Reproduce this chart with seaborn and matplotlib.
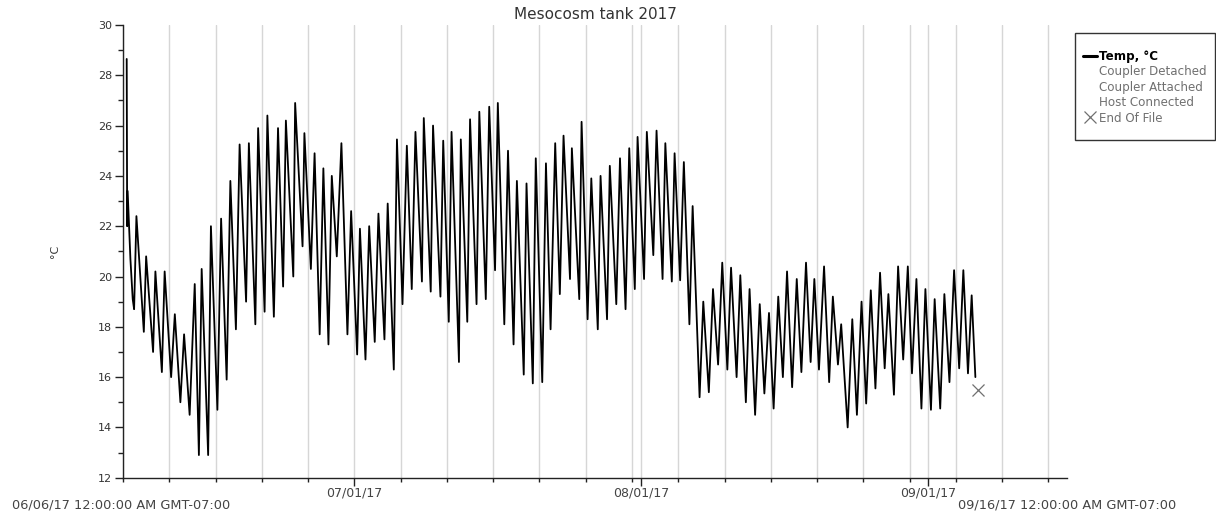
import numpy as np
import pandas as pd
import matplotlib
matplotlib.use("Agg")
import matplotlib.pyplot as plt
import matplotlib.dates as mdates
from matplotlib.lines import Line2D
from matplotlib.patches import Rectangle
from matplotlib.ticker import FixedLocator, MultipleLocator
import seaborn as sns

# Logger turning points: days elapsed since 06/06/17 00:00 (GMT-07:00)
elapsed_days = [
    0.40, 0.45, 0.50, 0.80, 1.05, 1.20, 1.45, 2.25, 2.50, 3.25,
    3.50, 4.20, 4.50, 5.20, 5.60, 6.20, 6.60, 7.20, 7.75, 8.20,
    8.50, 9.20, 9.50, 10.20, 10.60, 11.20, 11.60, 12.20, 12.60, 13.30,
    13.60, 14.30, 14.60, 15.30, 15.60, 16.30, 16.75, 17.30, 17.60, 18.40,
    18.60, 19.40, 19.60, 20.30, 20.70, 21.25, 21.65, 22.20, 22.56, 23.10,
    23.60, 24.25, 24.65, 25.30, 25.60, 26.20, 26.60, 27.20, 27.60, 28.25,
    28.60, 29.26, 29.60, 30.20, 30.67, 31.20, 31.60, 32.30, 32.50, 33.25,
    33.50, 34.30, 34.60, 35.20, 35.50, 36.30, 36.50, 37.20, 37.50, 38.20,
    38.50, 39.20, 39.57, 40.20, 40.50, 41.20, 41.60, 42.20, 42.56, 43.30,
    43.60, 44.28, 44.60, 45.30, 45.70, 46.20, 46.70, 47.20, 47.60, 48.30,
    48.50, 49.30, 49.55, 50.20, 50.60, 51.30, 51.60, 52.30, 52.60, 53.30,
    53.70, 54.30, 54.70, 55.30, 55.60, 56.30, 56.60, 57.30, 57.65, 58.30,
    58.60, 59.30, 59.60, 60.20, 60.60, 61.20, 61.55, 62.30, 62.70, 63.30,
    63.75, 64.30, 64.75, 65.30, 65.70, 66.30, 66.70, 67.30, 67.70, 68.30,
    68.80, 69.30, 69.80, 70.30, 70.80, 71.30, 71.75, 72.30, 72.80, 73.30,
    73.80, 74.30, 74.70, 75.20, 75.75, 76.30, 76.70, 77.25, 77.60, 78.30,
    78.80, 79.30, 79.80, 80.30, 80.80, 81.30, 81.80, 82.30, 82.70, 83.30,
    83.75, 84.30, 84.80, 85.25, 85.73, 86.27, 86.70, 87.30, 87.70, 88.30,
    88.75, 89.30, 89.80, 90.35, 90.80, 91.30, 91.70, 92.10,
]

# Temperature (°C) at each turning point
temp_c = [
    28.65, 22.0, 23.4, 20.7, 19.1, 18.7, 22.4, 17.8, 20.8, 17.0,
    20.2, 16.2, 20.2, 16.0, 18.5, 15.0, 17.7, 14.5, 19.7, 12.9,
    20.3, 12.9, 22.0, 14.7, 22.3, 15.9, 23.8, 17.9, 25.25, 19.0,
    25.3, 18.1, 25.9, 18.6, 26.4, 18.4, 25.9, 19.6, 26.2, 20.0,
    26.9, 21.2, 25.7, 20.3, 24.9, 17.7, 24.3, 17.3, 24.0, 20.8,
    25.3, 17.7, 22.6, 16.9, 21.9, 16.7, 22.0, 17.4, 22.5, 17.5,
    22.9, 16.3, 25.45, 18.9, 25.2, 19.5, 25.75, 19.8, 26.3, 19.4,
    26.0, 19.2, 25.4, 18.2, 25.75, 16.6, 25.45, 18.2, 26.25, 18.9,
    26.55, 19.1, 26.75, 20.25, 26.9, 18.1, 25.0, 17.3, 23.8, 16.1,
    23.7, 15.75, 24.7, 15.8, 24.5, 17.9, 25.3, 19.3, 25.6, 19.9,
    25.1, 19.1, 26.15, 18.3, 23.9, 17.9, 24.0, 18.3, 24.4, 18.9,
    24.7, 18.7, 25.1, 19.5, 25.55, 19.9, 25.75, 20.85, 25.8, 19.9,
    25.3, 19.8, 24.9, 19.85, 24.55, 18.1, 22.8, 15.2, 19.0, 15.4,
    19.5, 16.5, 20.55, 16.3, 20.35, 16.0, 20.05, 15.0, 19.5, 14.5,
    18.9, 15.35, 18.55, 14.75, 19.2, 16.0, 20.2, 15.6, 19.9, 16.2,
    20.55, 16.6, 19.9, 16.3, 20.4, 15.8, 19.2, 16.5, 18.1, 14.0,
    18.3, 14.5, 19.0, 14.95, 19.45, 15.55, 20.15, 16.35, 19.3, 15.3,
    20.4, 16.7, 20.4, 16.15, 19.9, 14.75, 19.5, 14.7, 19.1, 14.75,
    19.3, 15.8, 20.25, 16.35, 20.25, 16.15, 19.25, 16.0,
]

# End-of-file event
eof_day = [92.43]
eof_temp = [15.5]

record_start = "2017-06-06 00:00"
record_stop = "2017-09-16 00:00"
month_ticks = ["2017-07-01", "2017-08-01", "2017-09-01"]
month_labels = ["07/01/17", "08/01/17", "09/01/17"]
start_label = "06/06/17 12:00:00 AM GMT-07:00"
stop_label = "09/16/17 12:00:00 AM GMT-07:00"
legend_labels = ["Temp, °C", "Coupler Detached", "Coupler Attached",
                 "Host Connected", "End Of File"]
title = "Mesocosm tank 2017"
y_label = "°C"

sns.set_theme(style="ticks")
plt.rcParams["font.family"] = ["DejaVu Sans"]

t0 = pd.Timestamp(record_start)
t1 = pd.Timestamp(record_stop)
df = pd.DataFrame({
    "time": t0 + pd.to_timedelta(elapsed_days, unit="D"),
    "temp": temp_c,
})
eof = pd.DataFrame({
    "time": t0 + pd.to_timedelta(eof_day, unit="D"),
    "temp": eof_temp,
})

W, H = 1216, 515
fig = plt.figure(figsize=(W / 100, H / 100), dpi=100)
fig.patch.set_facecolor("white")
ax = fig.add_axes([123 / W, 37.3 / H, 944 / W, 452.7 / H])

sns.lineplot(data=df, x="time", y="temp", ax=ax, color="black",
             linewidth=1.3, estimator=None, sort=False, legend=False)
sns.scatterplot(data=eof, x="time", y="temp", ax=ax, marker="x", s=75,
                color="#707070", linewidth=0.9, legend=False, zorder=4)

ax.set_xlim(t0, t1)
ax.set_ylim(12, 30)

grid_days = pd.date_range(t0, t1, freq="5D")
ax.xaxis.set_major_locator(FixedLocator(mdates.date2num(pd.to_datetime(month_ticks))))
ax.xaxis.set_minor_locator(FixedLocator(mdates.date2num(grid_days)))
ax.set_xticklabels(month_labels)
ax.yaxis.set_major_locator(MultipleLocator(2))
ax.yaxis.set_minor_locator(MultipleLocator(1))

ax.grid(True, axis="x", which="both", color="#d6d6d6", linewidth=1.0)
ax.grid(False, axis="y")
ax.set_axisbelow(True)

ax.tick_params(axis="y", which="major", length=6, width=1, color="#222222",
               labelsize=8, labelcolor="#333333", pad=2, left=True)
ax.tick_params(axis="y", which="minor", length=3.5, width=1, color="#222222", left=True)
ax.tick_params(axis="x", which="major", length=6, width=1, color="#222222",
               labelsize=9, labelcolor="#444444", pad=0.5, bottom=True)
ax.tick_params(axis="x", which="minor", length=3, width=1, color="#222222", bottom=True)

for side in ("top", "right"):
    ax.spines[side].set_visible(False)
for side in ("left", "bottom"):
    ax.spines[side].set_color("#222222")
    ax.spines[side].set_linewidth(1.0)

ax.set_xlabel("")
ax.set_ylabel(y_label, fontsize=8, color="#333333")
ax.yaxis.set_label_coords(-63 / 944, 0.5)
ax.set_title(title, fontsize=11, color="#333333", pad=4)

fig.text(12 / W, 1 - 505 / H, start_label, ha="left", va="center",
         fontsize=9.3, color="#444444")
fig.text(1176 / W, 1 - 505 / H, stop_label, ha="right", va="center",
         fontsize=9.3, color="#444444")

# Legend panel
fig.patches.append(Rectangle((1075 / W, 1 - 140 / H), 140 / W, 107 / H,
                             transform=fig.transFigure, facecolor="white",
                             edgecolor="#333333", linewidth=1.0))
handles = [
    Line2D([], [], color="black", linewidth=2.2),
    Line2D([], [], linestyle="none"),
    Line2D([], [], linestyle="none"),
    Line2D([], [], linestyle="none"),
    Line2D([], [], linestyle="none", marker="x", color="#707070",
           markersize=8, markeredgewidth=0.9),
]
leg = fig.legend(handles, legend_labels, loc="upper left",
                 bbox_to_anchor=(1083 / W, 1 - 50 / H), frameon=False,
                 fontsize=8.6, handlelength=1.17, handletextpad=0.17,
                 labelspacing=0.2, borderpad=0, borderaxespad=0)
for i, txt in enumerate(leg.get_texts()):
    if i == 0:
        txt.set_color("black")
        txt.set_fontweight("semibold")
    else:
        txt.set_color("#707070")

fig.savefig("out.png", dpi=100, facecolor="white")
